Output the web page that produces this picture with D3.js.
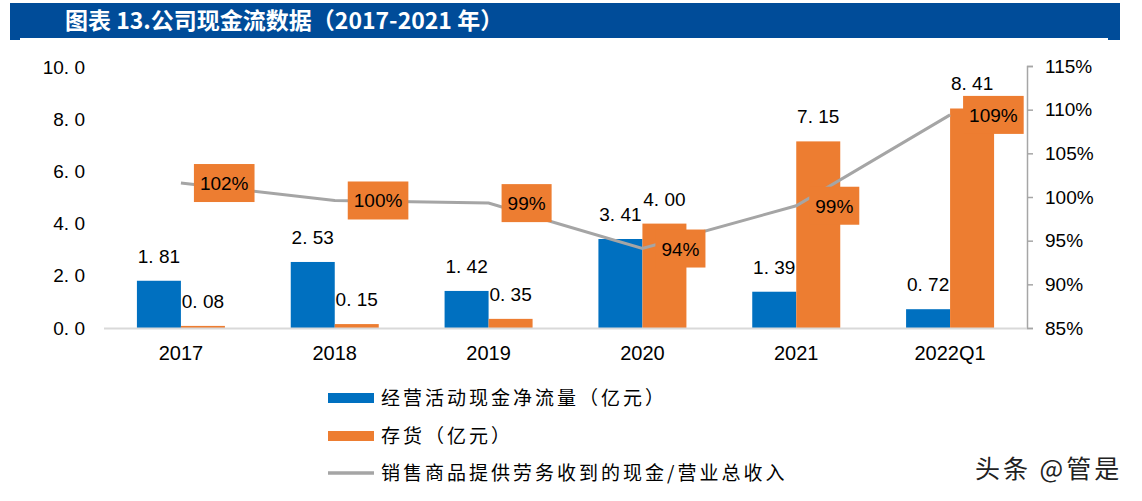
<!DOCTYPE html>
<html><head><meta charset="utf-8">
<script src="https://cdn.jsdelivr.net/npm/d3@7/dist/d3.min.js"></script>
<style>body{margin:0;background:#fff}svg{display:block}</style>
</head><body>
<svg id="chart" width="1142" height="501"></svg>
<script>
const categories = ["2017","2018","2019","2020","2021","2022Q1"];
const cashFlow = [1.81, 2.53, 1.42, 3.41, 1.39, 0.72];
const inventory = [0.08, 0.15, 0.35, 4.00, 7.15, 8.41];
const cashRatio = [1.016, 0.996, 0.993, 0.941, 0.990, 1.094];
const leftTicks = [0, 2, 4, 6, 8, 10];
const rightTicks = [0.85, 0.90, 0.95, 1.00, 1.05, 1.10, 1.15];
const seriesNames = ["经营活动现金净流量（亿元）", "存货（亿元）", "销售商品提供劳务收到的现金/营业总收入"];
const titleText = "图表 13.公司现金流数据（2017-2021 年）";

const BLUE = "#0070C0", ORANGE = "#ED7D31", GRAY = "#A5A5A5";
const svg = d3.select("#chart");
const num = "'Liberation Sans', Arial, sans-serif";
const cjk = "'Noto Sans CJK SC', sans-serif";

// title bar
svg.append("rect").attr("x", 10).attr("y", 3).attr("width", 1110).attr("height", 35).attr("fill", "#004C99");
svg.append("rect").attr("x", 10).attr("y", 38).attr("width", 10).attr("height", 2).attr("fill", "#004C99");
svg.append("rect").attr("x", 1108).attr("y", 38).attr("width", 12).attr("height", 2).attr("fill", "#004C99");
svg.append("text").attr("x", 65).attr("y", 29).attr("fill", "#fff")
  .attr("font-family", cjk).attr("font-weight", "bold").attr("font-size", 23).text(titleText);

const pLeft = 104, pRight = 1027, pTop = 67, pBottom = 328;
const x0 = d3.scaleBand().domain(categories).range([pLeft, pRight]).padding(0);
const groupW = 88;
const x1 = d3.scaleBand().domain([0, 1]).range([0, groupW]);
const y = d3.scaleLinear().domain([0, 10]).range([pBottom, pTop]);
const yR = d3.scaleLinear().domain([0.85, 1.15]).range([pBottom, pTop - 1]);
const gx = c => x0(c) + (x0.bandwidth() - groupW) / 2;
const cx = c => x0(c) + x0.bandwidth() / 2;

// left axis labels
const fmt = v => d3.format(".1f")(v).replace(".", ". ");
const yAxis = d3.axisLeft(y).tickValues(leftTicks).tickFormat(fmt).tickSize(0).tickPadding(0);
const gY = svg.append("g").attr("transform", "translate(85,0)").call(yAxis);
gY.select(".domain").remove();
gY.selectAll("text").attr("font-family", num).attr("font-size", 19).attr("fill", "#000");

// right axis
const yAxisR = d3.axisRight(yR).tickValues(rightTicks).tickFormat(d3.format(".0%")).tickSize(6).tickSizeOuter(6).tickPadding(12);
const gR = svg.append("g").attr("transform", `translate(${pRight},0)`).call(yAxisR);
gR.select(".domain").attr("stroke", "#A6A6A6").attr("stroke-width", 1.5);
gR.selectAll(".tick line").attr("stroke", "#A6A6A6").attr("stroke-width", 1.5);
gR.selectAll("text").attr("font-family", num).attr("font-size", 19).attr("fill", "#000");

// bars
const bars = [cashFlow, inventory];
const colors = [BLUE, ORANGE];
bars.forEach((vals, s) => {
  svg.append("g").selectAll("rect").data(categories).join("rect")
    .attr("x", c => gx(c) + x1(s))
    .attr("width", x1.bandwidth())
    .attr("y", (c, i) => y(vals[i]))
    .attr("height", (c, i) => pBottom - y(vals[i]))
    .attr("fill", colors[s]);
});

// baseline
svg.append("line").attr("x1", pLeft).attr("x2", pRight).attr("y1", pBottom + 0.5).attr("y2", pBottom + 0.5)
  .attr("stroke", "#D9D9D9").attr("stroke-width", 2);

// bar labels
const fmt2 = v => d3.format(".2f")(v).replace(".", ". ");
bars.forEach((vals, s) => {
  svg.append("g").selectAll("text").data(categories).join("text")
    .attr("x", c => gx(c) + x1(s) + x1.bandwidth() / 2)
    .attr("y", (c, i) => y(vals[i]) - 18)
    .attr("text-anchor", "middle")
    .attr("font-family", num).attr("font-size", 19).attr("fill", "#000")
    .text((c, i) => fmt2(vals[i]));
});

// x axis labels
svg.append("g").selectAll("text").data(categories).join("text")
  .attr("x", c => cx(c)).attr("y", 360).attr("text-anchor", "middle")
  .attr("font-family", num).attr("font-size", 20).attr("fill", "#000").text(c => c);

// line
const line = d3.line().x((d, i) => cx(categories[i])).y(d => yR(d));
svg.append("path").datum(cashRatio).attr("d", line).attr("fill", "none")
  .attr("stroke", GRAY).attr("stroke-width", 3);

// line labels
const lg = svg.append("g").selectAll("g").data(cashRatio).join("g");
lg.each(function(d, i) {
  const g = d3.select(this);
  const px = cx(categories[i]) + 13, py = yR(d);
  const t = g.append("text").attr("x", px + 6).attr("y", py + 7)
    .attr("font-family", num).attr("font-size", 19).attr("fill", "#000")
    .text(d3.format(".0%")(d));
  const w = t.node().getComputedTextLength();
  g.insert("rect", "text").attr("x", px).attr("y", py - 19).attr("width", w + 12).attr("height", 38).attr("fill", ORANGE);
});

// legend
const legY = [398, 436, 473];
const leg = svg.append("g");
seriesNames.forEach((n, i) => {
  if (i < 2) leg.append("rect").attr("x", 328).attr("y", legY[i] - 5).attr("width", 46).attr("height", 10).attr("fill", colors[i]);
  else leg.append("line").attr("x1", 328).attr("x2", 374).attr("y1", legY[i]).attr("y2", legY[i]).attr("stroke", GRAY).attr("stroke-width", 3.5);
  leg.append("text").attr("x", 381).attr("y", legY[i] + 7)
    .attr("font-family", cjk).attr("font-size", 19).attr("letter-spacing", 3).attr("fill", "#000").text(n);
});

// watermark
svg.append("text").attr("x", 975).attr("y", 478).attr("font-family", cjk).attr("font-size", 25)
  .attr("fill", "#222").attr("letter-spacing", 3).text("头条 @管是");
</script>
</body></html>
